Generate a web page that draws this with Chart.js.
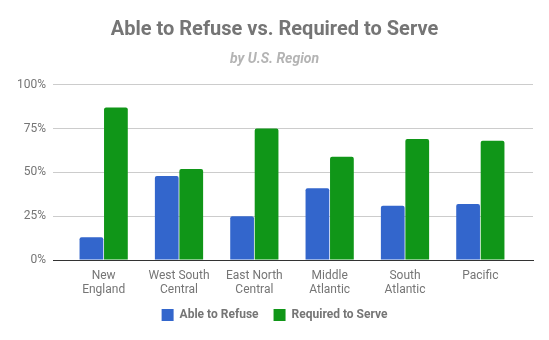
<!DOCTYPE html>
<html lang="en">
<head>
    <meta charset="UTF-8">
    <title>Able to Refuse vs. Required to Serve</title>
    <style>
        html, body {
            margin: 0;
            padding: 0;
            background: #ffffff;
        }
        #wrap {
            width: 549px;
            height: 340px;
        }
    </style>
    <script src="https://cdn.jsdelivr.net/npm/chart.js"></script>
</head>
<body>
    <div id="wrap"><canvas id="chart" width="549" height="340"></canvas></div>

    <script>
        // chart data
        const regions = [
            ['New', 'England'],
            ['West South', 'Central'],
            ['East North', 'Central'],
            ['Middle', 'Atlantic'],
            ['South', 'Atlantic'],
            ['Pacific']
        ];
        const ableToRefuse = [13, 48, 25, 41, 31, 32];
        const requiredToServe = [87, 52, 75, 59, 69, 68];
        const yTicks = [0, 25, 50, 75, 100];

        const grey = '#757575';

        // the categories sit a little inside the gridlines, like the original,
        // and the x labels may run a bit into the legend's space without being clipped
        const insetCategories = {
            id: 'insetCategories',
            afterLayout(chart) {
                const x = chart.scales.x;
                x._startPixel = x.left + 13;
                x._endPixel = x.right - 15;
                x._length = x._endPixel - x._startPixel;
                x.bottom = x.top + 46;
            }
        };

        new Chart(document.getElementById('chart'), {
            type: 'bar',
            data: {
                labels: regions,
                datasets: [{
                    label: 'Able to Refuse',
                    data: ableToRefuse,
                    backgroundColor: '#3366cc',
                    borderRadius: 2,
                    borderSkipped: 'start'
                }, {
                    label: 'Required to Serve',
                    data: requiredToServe,
                    backgroundColor: '#109618',
                    borderRadius: 2,
                    borderSkipped: 'start'
                }]
            },
            options: {
                responsive: false,
                animation: false,
                layout: {
                    padding: { left: 8, right: 8, top: 0, bottom: 9 }
                },
                datasets: {
                    bar: {
                        categoryPercentage: 0.65,
                        barPercentage: 0.97
                    }
                },
                scales: {
                    x: {
                        grid: { display: false, drawTicks: false },
                        border: { display: true, color: '#333333', width: 1 },
                        afterFit(scale) {
                            scale.height = 34;
                        },
                        ticks: {
                            color: grey,
                            padding: 9,
                            maxRotation: 0,
                            autoSkip: false,
                            font: { family: 'Roboto', size: 12, lineHeight: 1.15 }
                        }
                    },
                    y: {
                        min: 0,
                        max: 100,
                        afterBuildTicks(scale) {
                            scale.ticks = yTicks.map(v => ({ value: v }));
                        },
                        afterFit(scale) {
                            scale.width = 45;
                        },
                        grid: { color: '#cccccc', drawTicks: false },
                        border: { display: false },
                        ticks: {
                            color: grey,
                            padding: 7,
                            font: { family: 'Roboto', size: 12 },
                            callback: v => v + '%'
                        }
                    },
                    // empty spacer on the right so the titles stay centred on the page
                    spacer: {
                        position: 'right',
                        grid: { display: false, drawTicks: false },
                        border: { display: false },
                        ticks: { display: false },
                        afterFit(scale) {
                            scale.width = 8;
                        }
                    }
                },
                plugins: {
                    title: {
                        display: true,
                        text: 'Able to Refuse vs. Required to Serve',
                        color: grey,
                        padding: { top: 18, bottom: 0 },
                        font: { family: 'Roboto', size: 20, weight: 'bold' }
                    },
                    subtitle: {
                        display: true,
                        text: 'by U.S. Region',
                        color: '#b4b4b4',
                        padding: { top: 9, bottom: 17 },
                        font: { family: 'Roboto', size: 14, weight: 'bold', style: 'italic' }
                    },
                    legend: {
                        position: 'bottom',
                        labels: {
                            boxWidth: 12,
                            boxHeight: 12,
                            padding: 15,
                            color: grey,
                            font: { family: 'Roboto', size: 12, weight: 'bold' }
                        }
                    },
                    tooltip: { enabled: false }
                }
            },
            plugins: [insetCategories]
        });
    </script>
</body>
</html>
